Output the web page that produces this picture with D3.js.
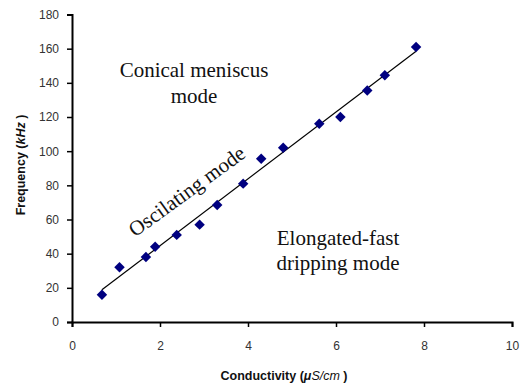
<!doctype html>
<html lang="en">
<head>
<meta charset="utf-8">
<script src="https://d3js.org/d3.v7.min.js"></script>
<style>
  body { margin: 0; background: #fff; }
  svg text { font-family: "Liberation Sans", Arial, sans-serif; }
  .note { font-family: "Liberation Serif", "Times New Roman", serif; font-size: 21px; fill: #111; }
</style>
</head>
<body>
<div id="chart"></div>
<script>
    // values
    var conductivity = [0.68, 1.08, 1.68, 1.89, 2.38, 2.9, 3.3, 3.89, 4.3, 4.8, 5.62, 6.1, 6.71, 7.11, 7.82];
    var frequency = [16, 32, 38, 44, 51, 57, 68.5, 81, 95.5, 102, 116, 120, 135.5, 144.5, 161];
    var xTicks = [0, 2, 4, 6, 8, 10];
    var yTicks = [0, 20, 40, 60, 80, 100, 120, 140, 160, 180];

    var width = 521, height = 383;
    var margin = { top: 14.5, right: 9, bottom: 61, left: 72 };

    var svg = d3.select("#chart").append("svg")
        .attr("width", width)
        .attr("height", height);

    var x = d3.scaleLinear().domain([0, 10]).range([margin.left, width - margin.right]);
    var y = d3.scaleLinear().domain([0, 180]).range([height - margin.bottom, margin.top]);

    // axes
    var xAxis = svg.append("g")
        .attr("transform", "translate(0," + y(0) + ")")
        .call(d3.axisBottom(x).tickValues(xTicks).tickSize(5).tickPadding(14));
    var yAxis = svg.append("g")
        .attr("transform", "translate(" + x(0) + ",0)")
        .call(d3.axisLeft(y).tickValues(yTicks).tickSize(5).tickPadding(8));

    [xAxis, yAxis].forEach(function (a) {
        a.select(".domain").attr("stroke", "#000").attr("stroke-width", 2);
        a.selectAll(".tick line").attr("stroke", "#000").attr("stroke-width", 1.5);
        a.selectAll(".tick text").attr("fill", "#333").style("font-size", "12px")
            .style("font-family", "'Liberation Sans', Arial, sans-serif");
    });

    // linear fit through the points
    var n = conductivity.length;
    var mx = d3.mean(conductivity), my = d3.mean(frequency);
    var sxy = 0, sxx = 0;
    for (var i = 0; i < n; i++) {
        sxy += (conductivity[i] - mx) * (frequency[i] - my);
        sxx += (conductivity[i] - mx) * (conductivity[i] - mx);
    }
    var slope = sxy / sxx, icpt = my - slope * mx;
    var x0 = d3.min(conductivity), x1 = d3.max(conductivity);

    svg.append("line")
        .attr("x1", x(x0)).attr("y1", y(icpt + slope * x0))
        .attr("x2", x(x1)).attr("y2", y(icpt + slope * x1))
        .attr("stroke", "#000")
        .attr("stroke-width", 1.2);

    // markers
    var points = conductivity.map(function (c, i) { return [c, frequency[i]]; });
    svg.selectAll(".pt")
        .data(points)
        .enter()
        .append("path")
        .attr("class", "pt")
        .attr("d", d3.symbol().type(d3.symbolDiamond2).size(70))
        .attr("transform", function (d) { return "translate(" + x(d[0]) + "," + y(d[1]) + ")"; })
        .attr("fill", "#000080");

    // region notes
    svg.append("text").attr("class", "note").attr("x", 194).attr("y", 77)
        .attr("text-anchor", "middle").text("Conical meniscus");
    svg.append("text").attr("class", "note").attr("x", 194).attr("y", 103)
        .attr("text-anchor", "middle").text("mode");
    svg.append("text").attr("class", "note").attr("x", 338).attr("y", 245)
        .attr("text-anchor", "middle").text("Elongated-fast");
    svg.append("text").attr("class", "note").attr("x", 338).attr("y", 270)
        .attr("text-anchor", "middle").text("dripping mode");
    svg.append("text").attr("class", "note")
        .attr("transform", "translate(191,197) rotate(-36)")
        .attr("text-anchor", "middle").text("Oscilating mode");

    // axis titles
    var xt = svg.append("text")
        .attr("x", 284).attr("y", 380)
        .attr("text-anchor", "middle")
        .style("font-size", "12.5px").style("font-weight", "bold").attr("fill", "#111");
    xt.append("tspan").text("Conductivity (");
    xt.append("tspan").style("font-style", "italic").text("\u03bc");
    xt.append("tspan").style("font-style", "italic").style("font-weight", "normal").text("S/cm");
    xt.append("tspan").text(" )");

    var yt = svg.append("text")
        .attr("transform", "translate(25,165) rotate(-90)")
        .attr("text-anchor", "middle")
        .style("font-size", "12.5px").style("font-weight", "bold").attr("fill", "#111");
    yt.append("tspan").text("Frequency (");
    yt.append("tspan").style("font-style", "italic").text("kHz");
    yt.append("tspan").text(" )");
</script>
</body>
</html>
